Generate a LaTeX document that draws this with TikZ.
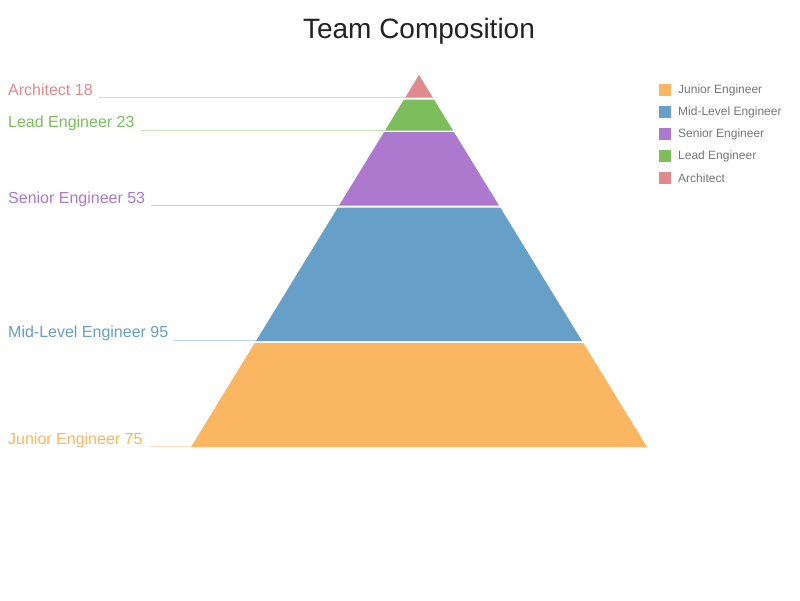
\documentclass[tikz,border=0pt]{standalone}
\usepackage{fontspec}
\setmainfont{Liberation Sans}
\usetikzlibrary{calc}
\definecolor{cjun}{HTML}{FBB661}
\definecolor{cmid}{HTML}{669FC7}
\definecolor{csen}{HTML}{AD79CE}
\definecolor{clead}{HTML}{7CBE5C}
\definecolor{carch}{HTML}{E08A8E}
\definecolor{ctitle}{HTML}{222222}
\definecolor{clegend}{HTML}{777777}
\tikzset{
  lab/.style={anchor=base west, inner sep=0pt, font=\fontsize{16}{19}\selectfont},
  legtxt/.style={anchor=west, inner sep=0pt, text=clegend, font=\fontsize{12}{14}\selectfont},
  legbox/.style={minimum width=12pt, minimum height=12pt, inner sep=0pt},
  guide/.style={line width=0.8pt},
}
\begin{document}
\begin{tikzpicture}[x=1pt,y=-1pt]
\useasboundingbox[fill=white] (0,0) rectangle (800,600);
% title
\node[text=ctitle, font=\fontsize{28}{32}\selectfont, anchor=base, inner sep=0pt] (title) at (419,38) {Team Composition};
% pyramid segments
\fill[carch] (419,75) -- (432.8,97.5) -- (405.2,97.5) -- cycle;
\fill[clead] (404.0,99.5) -- (434.0,99.5) -- (453.0,130.5) -- (385.0,130.5) -- cycle;
\fill[csen] (384.1,132) -- (453.9,132) -- (499.0,205.5) -- (339.0,205.5) -- cycle;
\fill[cmid] (337.8,207.5) -- (500.2,207.5) -- (582.0,341) -- (256.0,341) -- cycle;
\fill[cjun] (254.7,343) -- (583.3,343) -- (647,447) -- (191,447) -- cycle;
% anchor coordinates on pyramid edge
\coordinate (eA) at (405.2,97.5);
\coordinate (eL) at (385.0,130);
\coordinate (eS) at (339.0,205.5);
\coordinate (eM) at (256.0,340.5);
\coordinate (eJ) at (191,446.5);
% labels
\node[lab, text=carch] (lA) at (8,95.5) {Architect 18};
\node[lab, text=clead] (lL) at (8,127.5) {Lead Engineer 23};
\node[lab, text=csen] (lS) at (8,203.5) {Senior Engineer 53};
\node[lab, text=cmid] (lM) at (8,337) {Mid-Level Engineer 95};
\node[lab, text=cjun] (lJ) at (8,444) {Junior Engineer 75};
% guide lines
\draw[guide, carch!45] ($(lA.base east)+(6,2)$) -- (eA);
\draw[guide, clead!45] ($(lL.base east)+(6,2.5)$) -- (eL);
\draw[guide, csen!45] ($(lS.base east)+(6,2)$) -- (eS);
\draw[guide, cmid!45] ($(lM.base east)+(6,3.5)$) -- (eM);
\draw[guide, cjun!45] ($(lJ.base east)+(6,2.5)$) -- (eJ);
% legend
\node[legbox, fill=cjun] (k1) at (665,90) {};
\node[legbox, fill=cmid] (k2) at (665,112) {};
\node[legbox, fill=csen] (k3) at (665,134) {};
\node[legbox, fill=clead] (k4) at (665,156) {};
\node[legbox, fill=carch] (k5) at (665,178) {};
\node[legtxt] (t1) at (678,90) {Junior Engineer};
\node[legtxt] (t2) at (678,112) {Mid-Level Engineer};
\node[legtxt] (t3) at (678,134) {Senior Engineer};
\node[legtxt] (t4) at (678,156) {Lead Engineer};
\node[legtxt] (t5) at (678,178) {Architect};
\end{tikzpicture}
\end{document}
